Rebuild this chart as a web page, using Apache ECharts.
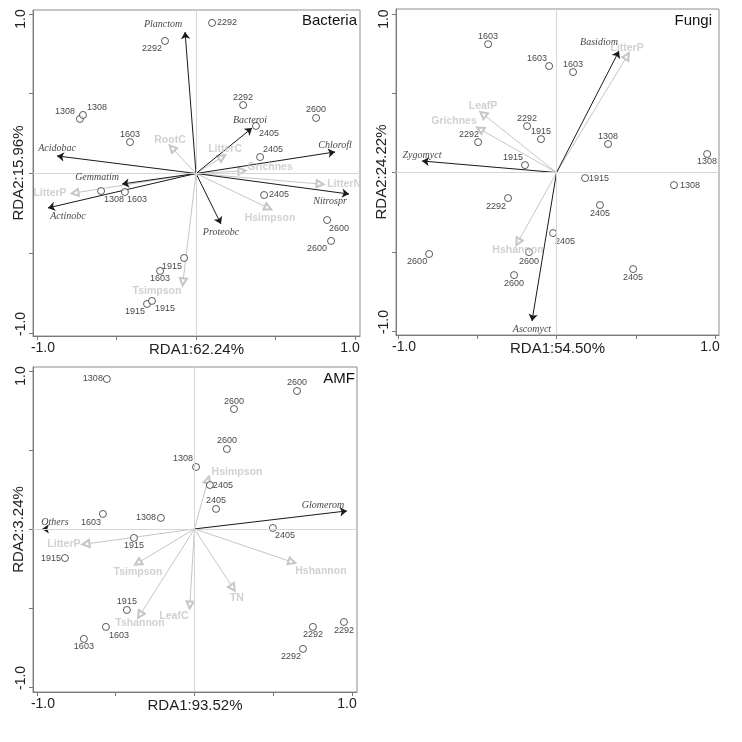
<!DOCTYPE html>
<html>
<head>
<meta charset="utf-8">
<script src="https://cdn.jsdelivr.net/npm/echarts@6/dist/echarts.min.js"></script>
<style>
  html, body { margin: 0; padding: 0; background: #fff; }
  #chart { width: 742px; height: 742px; }
</style>
</head>
<body>
<div id="chart"></div>
<script>
// ---------- Bacteria ----------
const bacSites = ["2292", "2292", "1308", "1308", "1603", "2292", "2405", "2600", "2405",
  "2405", "2600", "2600", "1308", "1603", "1915", "1603", "1915", "1915"];
const bacSiteX = [0.101, -0.195, -0.730, -0.711, -0.415, 0.296, 0.377, 0.755, 0.403,
  0.428, 0.824, 0.849, -0.597, -0.447, -0.075, -0.226, -0.308, -0.277];
const bacSiteY = [0.944, 0.831, 0.342, 0.367, 0.197, 0.429, 0.298, 0.348, 0.103,
  -0.135, -0.292, -0.423, -0.110, -0.116, -0.530, -0.611, -0.818, -0.799];
const bacSpecies = ["Planctom", "Acidobac", "Bacteroi", "Chlorofl", "Gemmatim", "Actinobc", "Nitrospr", "Proteobc"];
const bacSpeciesX = [-0.069, -0.874, 0.352, 0.874, -0.465, -0.931, 0.962, 0.157];
const bacSpeciesY = [0.887, 0.110, 0.285, 0.135, -0.066, -0.216, -0.129, -0.317];
const bacEnv = ["RootC", "LitterC", "Grichnes", "LitterN", "Hsimpson", "LitterP", "Tsimpson"];
const bacEnvX = [-0.151, 0.164, 0.289, 0.780, 0.453, -0.761, -0.082];
const bacEnvY = [0.160, 0.103, 0.016, -0.066, -0.216, -0.122, -0.680];

// ---------- Fungi ----------
const funSites = ["1603", "1603", "1603", "2292", "1915", "2292", "1915", "1308", "1308",
  "1915", "1308", "2405", "2405", "2405", "2292", "2600", "2600", "2600"];
const funSiteX = [-0.432, -0.047, 0.104, -0.186, -0.098, -0.495, -0.199, 0.325, 0.950,
  0.180, 0.741, 0.274, -0.022, 0.483, -0.306, -0.804, -0.174, -0.268];
const funSiteY = [0.810, 0.672, 0.634, 0.293, 0.211, 0.192, 0.047, 0.180, 0.117,
  -0.035, -0.079, -0.205, -0.382, -0.609, -0.161, -0.514, -0.502, -0.647];
const funSpecies = ["Zygomyct", "Basidiom", "Ascomyct"];
const funSpeciesX = [-0.849, 0.394, -0.155];
const funSpeciesY = [0.073, 0.767, -0.937];
const funEnv = ["LeafP", "Grichnes", "LitterP", "Hshannon"];
const funEnvX = [-0.464, -0.483, 0.445, -0.243];
const funEnvY = [0.369, 0.274, 0.735, -0.438];

// ---------- AMF ----------
const amfSites = ["1308", "1308", "1603", "1308", "2600", "2600", "2600", "2405", "2405",
  "2405", "1915", "1915", "1915", "1603", "1603", "2292", "2292", "2292"];
const amfSiteX = [-0.556, 0.010, -0.581, -0.213, 0.651, 0.251, 0.206, 0.098, 0.137,
  0.498, -0.384, -0.822, -0.429, -0.562, -0.702, 0.752, 0.949, 0.689];
const amfSiteY = [0.949, 0.392, 0.095, 0.070, 0.873, 0.759, 0.506, 0.278, 0.127,
  0.006, -0.057, -0.184, -0.513, -0.620, -0.696, -0.620, -0.589, -0.759];
const amfSpecies = ["Others", "Glomerom"];
const amfSpeciesX = [-0.968, 0.968];
const amfSpeciesY = [0.0, 0.114];
const amfEnv = ["Hsimpson", "LitterP", "Tsimpson", "Tshannon", "LeafC", "TN", "Hshannon"];
const amfEnvX = [0.086, -0.689, -0.359, -0.346, -0.029, 0.244, 0.619];
const amfEnvY = [0.310, -0.095, -0.215, -0.544, -0.481, -0.373, -0.209];

const titles = ["Bacteria", "Fungi", "AMF"];
const xNames = ["RDA1:62.24%", "RDA1:54.50%", "RDA1:93.52%"];
const yNames = ["RDA2:15.96%", "RDA2:24.22%", "RDA2:3.24%"];
const tickValues = [-1, -0.5, 0, 0.5, 1];
const tickLabelValues = [-1, 1];

// ---------- layout & label placement (pixels) ----------
const boxes = [
  { left: 33, top: 10, width: 327, height: 326, xMin: -1.025, xMax: 1.031, yMin: -1.019, yMax: 1.025, titleRight: 385, titleTop: 13 },
  { left: 396, top: 9, width: 323, height: 326, xMin: -1.013, xMax: 1.025, yMin: -1.025, yMax: 1.032, titleRight: 30, titleTop: 13 },
  { left: 33, top: 367, width: 324, height: 325, xMin: -1.025, xMax: 1.032, yMin: -1.032, yMax: 1.025, titleRight: 387, titleTop: 371 }
];
const siteLabelOffsets = [
  [[15,0],[-13,8],[-15,-7],[14,-7],[0,-8],[0,-8],[13,8],[0,-8],[13,-8],[15,0],[12,8],[-14,8],[13,8],[12,8],[-12,9],[0,8],[-12,8],[13,8]],
  [[0,-8],[-12,-8],[0,-8],[0,-8],[0,-8],[-9,-8],[-12,-8],[0,-8],[0,8],[14,0],[16,0],[0,8],[12,8],[0,8],[-12,8],[-12,8],[0,9],[0,8]],
  [[-14,0],[-13,-8],[-12,9],[-15,0],[0,-8],[0,-8],[0,-8],[13,0],[0,-8],[12,8],[0,8],[-14,0],[0,-8],[13,9],[0,8],[0,8],[0,9],[-12,8]]
];
const speciesLabelOffsets = [
  [[-22,-8],[0,-8],[-2,-8],[0,-7],[-25,-7],[20,8],[-19,7],[0,8]],
  [[0,-6],[-20,-9],[0,8]],
  [[13,-7],[-24,-6]]
];
const envLabelOffsets = [
  [[-2,-8],[3,-8],[28,-4],[24,0],[2,10],[-25,0],[-26,9]],
  [[0,-8],[-26,-8],[0,-8],[0,8]],
  [[29,-8],[-22,0],[0,9],[0,8],[-16,11],[4,10],[29,9]]
];

const panels = [
  { sites: bacSites, sx: bacSiteX, sy: bacSiteY, sp: bacSpecies, px: bacSpeciesX, py: bacSpeciesY, env: bacEnv, ex: bacEnvX, ey: bacEnvY },
  { sites: funSites, sx: funSiteX, sy: funSiteY, sp: funSpecies, px: funSpeciesX, py: funSpeciesY, env: funEnv, ex: funEnvX, ey: funEnvY },
  { sites: amfSites, sx: amfSiteX, sy: amfSiteY, sp: amfSpecies, px: amfSpeciesX, py: amfSpeciesY, env: amfEnv, ex: amfEnvX, ey: amfEnvY }
];

const SANS = "Arial, 'Liberation Sans', sans-serif";
const SERIF = "'Times New Roman', 'Liberation Serif', serif";
const frameColor = "#7a7a7a";
const envColor = "#c6c6c6";
const speciesColor = "#1a1a1a";

const chart = echarts.init(document.getElementById("chart"), null, { renderer: "canvas" });

const grids = boxes.map(b => ({
  left: b.left, top: b.top, width: b.width, height: b.height,
  show: true, borderColor: "#8e8e8e", borderWidth: 1, backgroundColor: "#fff"
}));

const tickLabel = (rotated) => ({
  customValues: tickLabelValues,
  margin: 5,
  rotate: rotated ? 90 : 0,
  formatter: v => (v < 0 ? "{mn|-1.0}" : "{mx|1.0}"),
  rich: {
    mn: { fontSize: 14, fontFamily: SANS, color: "#222", padding: rotated ? [0, 0, 0, 18] : [0, 0, 0, 12] },
    mx: { fontSize: 14, fontFamily: SANS, color: "#222", padding: [0, 10, 0, 0] }
  }
});

const xAxes = boxes.map((b, i) => ({
  gridIndex: i, type: "value", min: b.xMin, max: b.xMax,
  name: xNames[i], nameLocation: "middle", nameGap: 6, nameMoveOverlap: false,
  nameTextStyle: { fontSize: 15, fontFamily: SANS, color: "#222", verticalAlign: "top" },
  axisLine: { show: true, onZero: false, lineStyle: { color: frameColor, width: 1 } },
  axisTick: { show: true, customValues: tickValues, length: 4, lineStyle: { color: frameColor } },
  axisLabel: tickLabel(false),
  splitLine: { show: false }
}));

const yAxes = boxes.map((b, i) => ({
  gridIndex: i, type: "value", min: b.yMin, max: b.yMax,
  name: yNames[i], nameLocation: "middle", nameGap: 7, nameRotate: 90, nameMoveOverlap: false,
  nameTextStyle: { fontSize: 15, fontFamily: SANS, color: "#222" },
  axisLine: { show: true, onZero: false, lineStyle: { color: frameColor, width: 1 } },
  axisTick: { show: true, customValues: tickValues, length: 4, lineStyle: { color: frameColor } },
  axisLabel: tickLabel(true),
  splitLine: { show: false }
}));

const series = [];
panels.forEach((p, i) => {
  const ax = { xAxisIndex: i, yAxisIndex: i };
  // zero reference lines
  series.push({
    type: "scatter", ...ax, z: 1, silent: true, symbolSize: 0, data: [[0, 0]],
    markLine: {
      silent: true, symbol: "none", label: { show: false },
      lineStyle: { color: "#d6d6d6", width: 1, type: "solid" },
      data: [{ xAxis: 0 }, { yAxis: 0 }]
    }
  });
  // environmental arrows (grey, hollow heads)
  series.push({
    type: "lines", coordinateSystem: "cartesian2d", ...ax, z: 2, silent: true,
    symbol: ["none", "emptyTriangle"], symbolSize: 7,
    lineStyle: { color: envColor, width: 1, opacity: 1 },
    data: p.env.map((n, k) => ({ coords: [[0, 0], [p.ex[k], p.ey[k]]] }))
  });
  // species arrows (black)
  series.push({
    type: "lines", coordinateSystem: "cartesian2d", ...ax, z: 3, silent: true,
    symbol: ["none", "arrow"], symbolSize: 7,
    lineStyle: { color: speciesColor, width: 1, opacity: 1 },
    data: p.sp.map((n, k) => ({ coords: [[0, 0], [p.px[k], p.py[k]]] }))
  });
  // sites
  series.push({
    type: "scatter", ...ax, z: 4, silent: true,
    symbol: "circle", symbolSize: 7,
    itemStyle: { color: "#fff", borderColor: "#333", borderWidth: 1 },
    label: { show: true, position: "inside", formatter: "{b}", fontSize: 9, fontFamily: SANS, color: "#111" },
    data: p.sites.map((s, k) => ({ name: s, value: [p.sx[k], p.sy[k]], label: { offset: siteLabelOffsets[i][k] } }))
  });
  // species labels
  series.push({
    type: "scatter", ...ax, z: 5, silent: true, symbolSize: 0,
    label: { show: true, position: "inside", formatter: "{b}", fontSize: 10, fontFamily: SERIF, fontStyle: "italic", color: "#111" },
    data: p.sp.map((s, k) => ({ name: s, value: [p.px[k], p.py[k]], label: { offset: speciesLabelOffsets[i][k] } }))
  });
  // environmental labels
  series.push({
    type: "scatter", ...ax, z: 5, silent: true, symbolSize: 0,
    label: { show: true, position: "inside", formatter: "{b}", fontSize: 10.5, fontFamily: SANS, fontWeight: "bold", color: envColor },
    data: p.env.map((s, k) => ({ name: s, value: [p.ex[k], p.ey[k]], label: { offset: envLabelOffsets[i][k] } }))
  });
});

chart.setOption({
  animation: false,
  backgroundColor: "#fff",
  title: titles.map((t, i) => ({
    text: t, right: boxes[i].titleRight, top: boxes[i].titleTop, padding: 0,
    textStyle: { fontSize: 15, fontWeight: "normal", fontFamily: SANS, color: "#111" }
  })),
  grid: grids,
  xAxis: xAxes,
  yAxis: yAxes,
  series: series
});
</script>
</body>
</html>
